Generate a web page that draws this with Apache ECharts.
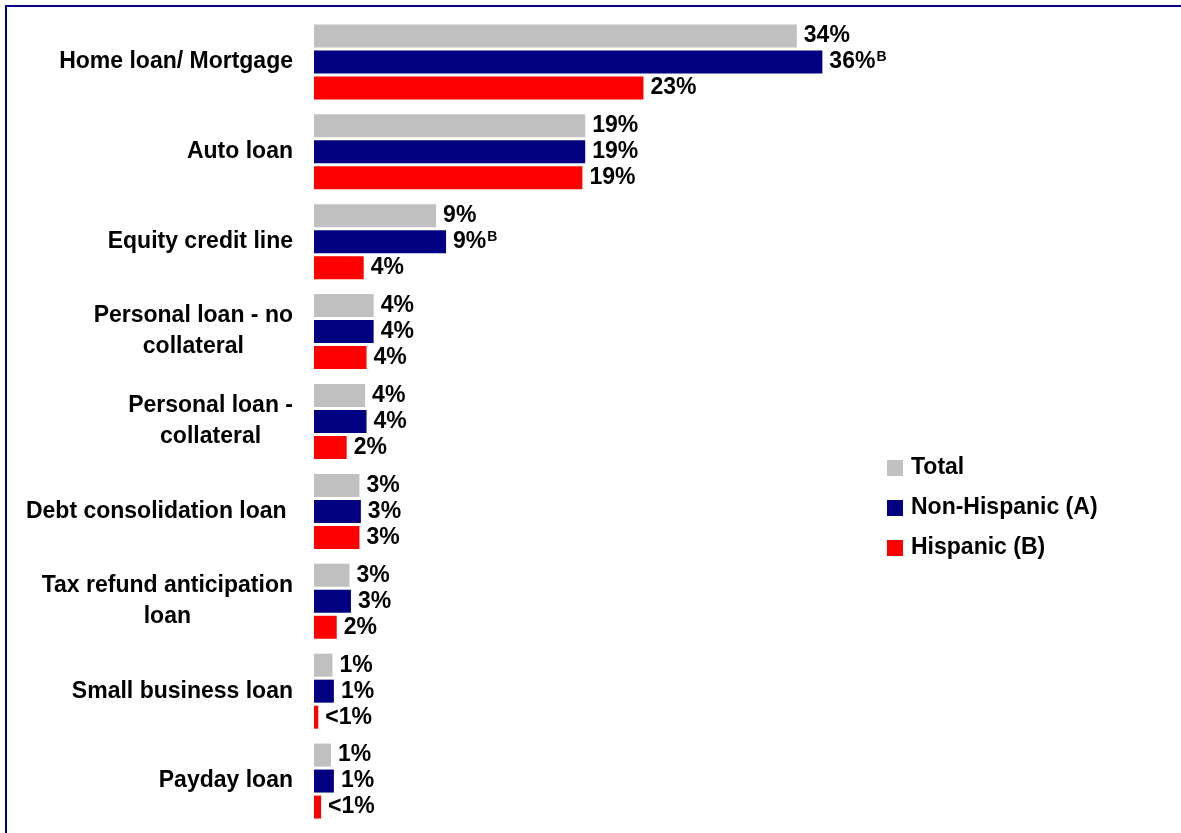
<!DOCTYPE html>
<html>
<head>
<meta charset="utf-8">
<title>Loan types by ethnicity</title>
<script src="https://cdn.jsdelivr.net/npm/echarts@6/dist/echarts.min.js"></script>
<style>
  html, body { margin: 0; padding: 0; background: #fff; }
  #chart { position: absolute; left: 0; top: 0; width: 1181px; height: 833px; }
  #frame {
    position: absolute; left: 5px; top: 5px; right: 0; bottom: 0;
    border-top: 2px solid #000080; border-left: 2px solid #000080;
    pointer-events: none;
  }
</style>
</head>
<body>
<div id="chart"></div>
<div id="frame"></div>
<script>
// Loan categories, top to bottom
const categories = [
  'Home loan/ Mortgage',
  'Auto loan',
  'Equity credit line',
  'Personal loan - no\ncollateral',
  'Personal loan -\ncollateral',
  'Debt consolidation loan ',
  'Tax refund anticipation\nloan',
  'Small business loan',
  'Payday loan'
];

// Share of respondents holding each loan type (%)
const totalValues       = [34.0, 19.1, 8.6, 4.2, 3.6, 3.2, 2.5, 1.3, 1.2];
const nonHispanicValues = [35.8, 19.1, 9.3, 4.2, 3.7, 3.3, 2.6, 1.4, 1.4];
const hispanicValues    = [23.2, 18.9, 3.5, 3.7, 2.3, 3.2, 1.6, 0.3, 0.5];

// Significance markers shown next to the Non-Hispanic values
const nonHispanicSig = ['B', '', 'B', '', '', '', '', '', ''];

const seriesNames = ['Total', 'Non-Hispanic (A)', 'Hispanic (B)'];
const seriesColors = ['#C0C0C0', '#000080', '#FF0000'];

const FONT = '"Liberation Sans", Arial, sans-serif';
const FS = 23;

function pct(v) {
  return v < 1 ? '<1%' : Math.round(v) + '%';
}

const valueRich = {
  v: { fontFamily: FONT, fontSize: FS, fontWeight: 'bold', color: '#000', lineHeight: 24 },
  s: { fontFamily: FONT, fontSize: 14, fontWeight: 'bold', color: '#000', lineHeight: 12,
       verticalAlign: 'top', padding: [0, 0, 0, 1] }
};

function barSeries(idx, values, sigs) {
  return {
    name: seriesNames[idx],
    type: 'bar',
    data: values,
    barWidth: 23,
    barGap: '13%',
    itemStyle: { color: seriesColors[idx] },
    label: {
      show: true,
      position: 'right',
      distance: 7,
      formatter: function (p) {
        const sig = sigs ? sigs[p.dataIndex] : '';
        return '{v|' + pct(p.value) + '}' + (sig ? '{s|' + sig + '}' : '');
      },
      rich: valueRich
    }
  };
}

const chart = echarts.init(document.getElementById('chart'), null, { renderer: 'canvas' });

chart.setOption({
  animation: false,
  backgroundColor: 'transparent',
  grid: { left: 314, right: 15, top: 17, bottom: 7, containLabel: false },
  xAxis: {
    type: 'value',
    min: 0,
    max: 60,
    show: false
  },
  yAxis: {
    type: 'category',
    data: categories,
    inverse: true,
    axisLine: { show: false },
    axisTick: { show: false },
    splitLine: { show: false },
    axisLabel: {
      margin: 21,
      color: '#000',
      fontFamily: FONT,
      fontSize: FS,
      fontWeight: 'bold',
      lineHeight: 31,
      formatter: function (v) {
        return v.split('\n').map(function (l) { return '{c|' + l + '}'; }).join('\n');
      },
      rich: {
        c: { align: 'center', fontFamily: FONT, fontSize: FS, fontWeight: 'bold',
             color: '#000', lineHeight: 31 }
      }
    }
  },
  legend: {
    orient: 'vertical',
    left: 887,
    top: 456,
    padding: 0,
    itemWidth: 16,
    itemHeight: 16,
    itemGap: 16,
    icon: 'rect',
    data: seriesNames,
    textStyle: {
      fontFamily: FONT,
      fontSize: FS,
      fontWeight: 'bold',
      color: '#000',
      lineHeight: 24,
      padding: [0, 0, 0, 3]
    }
  },
  series: [
    barSeries(0, totalValues, null),
    barSeries(1, nonHispanicValues, nonHispanicSig),
    barSeries(2, hispanicValues, null)
  ]
});
</script>
</body>
</html>
